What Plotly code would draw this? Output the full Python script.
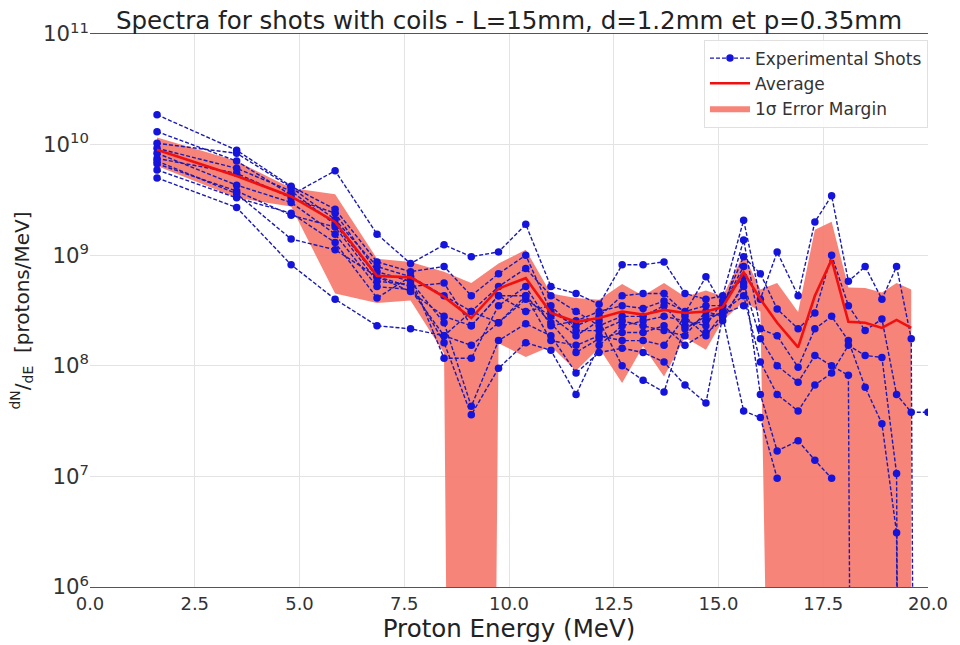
import plotly.graph_objects as go

# Energy bins of the spectrometer (MeV)
energy_mev = [1.6, 3.5, 4.8, 5.85, 6.85, 7.65, 8.45, 9.1, 9.75, 10.4, 11.0, 11.6,
              12.15, 12.7, 13.2, 13.7, 14.2, 14.7, 15.1, 15.6, 16.0, 16.4, 16.9,
              17.3, 17.7, 18.1, 18.5, 18.9, 19.25, 19.6, 20.0]

# dN/dE for each shot (protons/MeV); 0 = no signal, None = beyond cut-off
shot_a = [1.86e10, 8.9e9, 4.2e9, 2.6e9, 8.7e8, 7.1e8, 7.9e8, 4.3e8, 6.8e8, 1.0e9, 3.1e8, 2.3e8,
          2.8e8, 4.3e8, 4.5e8, 4.5e8, 3.0e8, 6.4e8, 3.5e8, 9.7e8, 6.8e8, 3.26e8, 2.16e8,
          3.0e8, 1.0e9, 3.5e8, 2.08e8, 2.65e8, 5.5e7, 3.8e7, 3.8e7]
shot_b = [1.31e10, 7.1e9, 3.5e9, 5.8e9, 1.55e9, 8.4e8, 1.24e9, 9.7e8, 1.07e9, 1.9e9, 5.2e8, 4.5e8,
          3.6e8, 8.2e8, 8.2e8, 8.7e8, 4.5e8, 4.0e8, 4.3e8, 2.07e9, 4.0e8, 1.07e9, 4.3e8,
          2.0e9, 3.45e9, 5.8e8, 7.9e8, 4.0e8, 7.9e8, 1.76e8, 0]
shot_c = [9.25e9, 6.1e9, 3.8e9, 1.9e9, 6.4e8, 5.2e8, 5.6e8, 2.3e8, 4.3e8, 4.3e8, 2.45e8, 1.32e8,
          1.76e8, 2.0e8, 2.0e8, 2.3e8, 1.53e8, 2.0e8, 2.55e8, 5.6e8, 1.76e8, 1.0e8, 7.1e7,
          1.24e8, 1.0e8, 8.2e7, 0, None, None, None, None]
shot_d = [8.35e9, 4.3e9, 3.0e9, 1.55e9, 5.2e8, 4.9e8, 1.87e8, 1.53e8, 2.45e8, 4.0e8, 2.8e8, 1.87e8,
          2.55e8, 1.0e8, 7.4e7, 5.8e7, 2.3e8, 2.55e8, 3.1e8, 4.3e8, 1.08e8, 5.5e7, 3.9e7,
          6.7e7, 8.6e7, 1.53e8, 1.24e8, 1.19e8, 1.06e7, 0, None]
shot_e = [7.5e9, 5.5e9, 3.3e9, 2.4e9, 7.1e8, 5.8e8, 2.45e8, 4.3e7, 1.69e8, 2.4e8, 1.87e8, 8.6e7,
          1.32e8, 1.44e8, 1.32e8, 1.08e8, 6.7e7, 4.6e7, 2.8e8, 3.9e7, 3.4e7, 9.6e6, None,
          None, None, None, None, None, None, None, None]
shot_f = [6.7e9, 3.8e9, 2.3e9, 1.8e9, 5.8e8, 5.45e8, 1.62e8, 3.6e7, 9.5e7, 1.62e8, 1.38e8, 5.5e7,
          1.53e8, 2.3e8, 2.55e8, 2.8e8, 2.55e8, 2.3e8, 3.85e8, 6.4e8, 5.5e7, 1.7e7, 2.1e7,
          1.4e7, 9.6e6, None, None, None, None, None, None]
shot_g = [5.9e9, 3.3e9, 2.4e9, 1.3e9, 4.1e8, 6.4e8, 1.17e8, 1.17e8, 3.5e8, 5.2e8, 2.3e8, 2.55e8,
          3.1e8, 3.5e8, 3.3e8, 3.85e8, 3.1e8, 3.5e8, 3.5e8, 7.9e8, None, None, None,
          None, None, None, None, None, None, None, None]
shot_h = [5.0e9, 2.7e9, 8.2e8, 4.0e8, 2.3e8, 2.16e8, 1.87e8, 3.1e8, 2.45e8, 4.3e8, 1.69e8, 1.53e8,
          1.87e8, 1.69e8, 1.69e8, 1.53e8, 2.8e8, 1.87e8, 2.95e8, 3.5e8, None, None, None,
          None, None, None, None, None, None, None, None]
shot_i = [1.03e10, 8.35e9, 4.1e9, 2.1e9, 7.9e8, 6.4e8, 4.3e8, 3.1e8, 5.2e8, 7.6e8, 4.3e8, 3.1e8,
          2.3e8, 2.8e8, 2.8e8, 3.5e8, 2.16e8, 2.8e8, 3.0e8, 1.37e9, 2.16e8, 1.87e8, 9.7e7,
          2.16e8, 2.8e8, 1.69e8, 6.4e7, 3.0e7, 3.1e6, 0, None]
shot_j = [7.1e9, 3.6e9, 1.4e9, 1.12e9, 6.4e8, 4.7e8, 2.8e8, 2.3e8, 4.3e8, 3.1e8, 3.5e8, 2.08e8,
          2.08e8, 2.55e8, 2.3e8, 2.08e8, 1.87e8, 3.1e8, 2.8e8, 5.2e8, None, None, None,
          None, None, None, None, None, None, None, None]

shots = [shot_a, shot_b, shot_c, shot_d, shot_e, shot_f, shot_g, shot_h, shot_i, shot_j]

# Mean spectrum and its standard deviation (first 30 bins)
average = [9.0e9, 5.2e9, 3.4e9, 2.0e9, 6.5e8, 6.3e8, 4.2e8, 2.7e8, 5.0e8, 6.2e8, 3.0e8, 2.5e8,
           2.7e8, 3.1e8, 2.9e8, 3.2e8, 3.0e8, 3.1e8, 3.4e8, 7.0e8, 4.0e8, 2.45e8, 1.47e8,
           4.3e8, 9.1e8, 2.5e8, 2.45e8, 2.2e8, 2.6e8, 2.2e8]
sigma = [2.6e9, 1.9e9, 6.5e8, 1.55e9, 2.8e8, 2.4e8, 2.9e8, 2.9e8, 3.4e8, 5.0e8, 1.5e8, 1.6e8,
         1.25e8, 2.4e8, 1.4e8, 2.4e8, 1.2e8, 1.7e8, 8.5e7, 3.2e8, 9.0e7, 3.15e8, 1.6e8,
         1.27e9, 1.1e9, 2.6e8, 2.6e8, 2.4e8, 3.0e8, 2.7e8]

# Non-positive values are pushed far below the log axis so their segments drop off the plot
LOG_FLOOR = 1e-20


def log_safe(values):
    return [None if v is None else (v if v > 0 else LOG_FLOOR) for v in values]


FONT = "DejaVu Sans"
SHOT_MARKER = "#1414dc"
SHOT_LINE = "#1a1ab4"
AVG_COLOR = "#f01010"
BAND_COLOR = "rgba(246,122,110,0.92)"

band_x = energy_mev[:len(average)]
band_hi = [a + s for a, s in zip(average, sigma)]
band_lo = log_safe([a - s for a, s in zip(average, sigma)])

fig = go.Figure()

# 1-sigma band (lower edge, then upper edge filled down to it)
fig.add_trace(go.Scatter(
    x=band_x, y=band_lo, mode="lines", line=dict(width=0, color=BAND_COLOR),
    showlegend=False, hoverinfo="skip"))
fig.add_trace(go.Scatter(
    x=band_x, y=band_hi, mode="lines", line=dict(width=0, color=BAND_COLOR),
    fill="tonexty", fillcolor=BAND_COLOR, name="1σ Error Margin", legendrank=3))

# Individual shots
for i, shot in enumerate(shots):
    fig.add_trace(go.Scatter(
        x=energy_mev, y=log_safe(shot), mode="lines+markers",
        line=dict(color=SHOT_LINE, width=1.4, dash="4px,2px"),
        marker=dict(color=SHOT_MARKER, size=7.5),
        name="Experimental Shots", legendgroup="shots",
        showlegend=(i == 0), legendrank=1))

# Mean spectrum
fig.add_trace(go.Scatter(
    x=band_x, y=average, mode="lines",
    line=dict(color=AVG_COLOR, width=2.6),
    name="Average", legendrank=2))

fig.update_layout(
    width=960, height=645,
    margin=dict(l=90, r=26, t=34, b=50),
    paper_bgcolor="white", plot_bgcolor="white",
    font=dict(family=FONT, color="#222222"),
    title=dict(
        text="Spectra for shots with coils - L=15mm, d=1.2mm et p=0.35mm",
        font=dict(family=FONT, size=24.5, color="#222222"),
        x=0.5, xref="paper", xanchor="center",
        y=0.968, yref="container", yanchor="middle"),
    legend=dict(
        x=1.0, xanchor="right", y=0.99, yanchor="top",
        bgcolor="rgba(255,255,255,0.85)", bordercolor="#e0e0e0", borderwidth=1,
        font=dict(family=FONT, size=17, color="#333333"),
        itemwidth=40, tracegroupgap=0),
    showlegend=True,
)

fig.update_xaxes(
    range=[0, 20], dtick=2.5, tick0=0, tickformat=".1f",
    tickfont=dict(family=FONT, size=18, color="#333333"),
    showgrid=True, gridcolor="#e3e3e3", gridwidth=1,
    zeroline=False, showline=True, linecolor="#555555", linewidth=1.2, mirror=True,
    ticks="",
    title=dict(text="Proton Energy (MeV)", font=dict(family=FONT, size=24.5, color="#222222"),
               standoff=2),
)

fig.update_yaxes(
    type="log", range=[6, 11], dtick=1, exponentformat="power", showexponent="all",
    tickfont=dict(family=FONT, size=17, color="#333333"),
    showgrid=True, gridcolor="#e3e3e3", gridwidth=1,
    zeroline=False, showline=False, ticks="",
    title=dict(text="<sup>dN</sup>/<sub>dE</sub>  [protons/MeV]",
               font=dict(family=FONT, size=20, color="#222222"), standoff=8),
)

fig.write_html("out.html")
